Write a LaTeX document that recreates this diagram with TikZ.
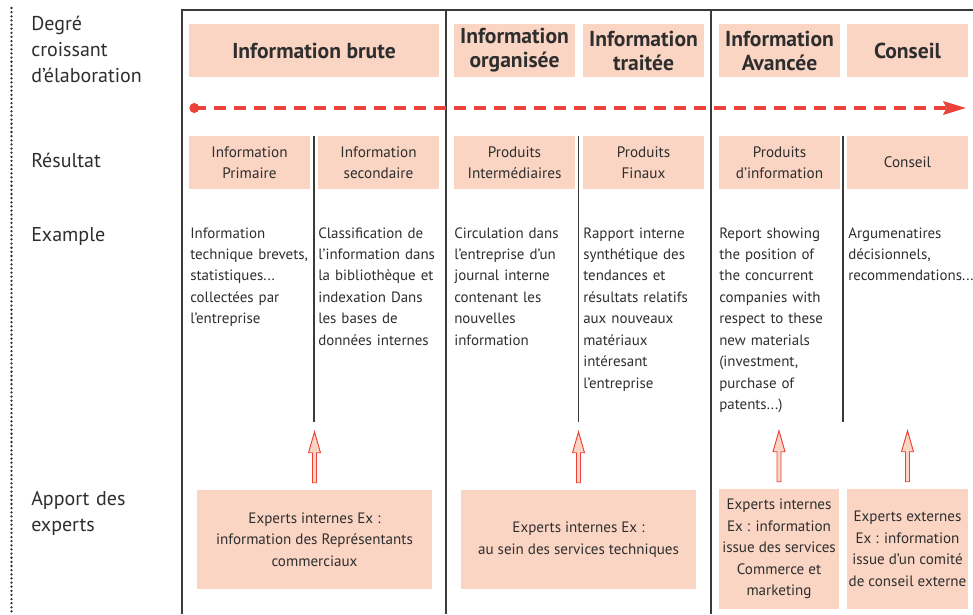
\documentclass[tikz,border=0pt]{standalone}
\usepackage{fontspec}
\setmainfont{PT Sans}
\usetikzlibrary{arrows.meta}
\definecolor{peach}{HTML}{FBD5C4}
\definecolor{redline}{HTML}{EA4138}
\definecolor{rule}{HTML}{3A3A3A}
\definecolor{ink}{HTML}{2E2E2E}
% hollow upward arrow standing on top of an expert box
\newcommand\upflow[1]{%
  \draw[hollow] (#1.north) ++(-2,-7) -- ++(0,-30) -- ++(-4,0) -- ++(6,-21)
    -- ++(6,21) -- ++(-4,0) -- ++(0,30) -- cycle;}
\begin{document}
\begin{tikzpicture}[x=0.75pt,y=-0.75pt,
  every node/.style={text=ink, inner sep=0pt},
  lbl/.style={font=\fontsize{15}{19.5}\selectfont, anchor=base west, text width=110pt, align=left},
  head/.style={fill=peach, minimum height=39.75pt, font=\bfseries\fontsize{16.2}{18}\selectfont, align=center},
  resbox/.style={fill=peach, minimum width=90.75pt, minimum height=39.75pt, font=\fontsize{11.4}{16}\selectfont, align=center},
  ex/.style={anchor=base west, text width=97pt, align=left, font=\fontsize{11.2}{16.1}\selectfont},
  expert/.style={fill=peach, font=\fontsize{11.3}{16.1}\selectfont, align=center},
  frame/.style={draw=rule, line width=1pt},
  sep/.style={draw=rule, line width=0.9pt},
  hollow/.style={draw=redline, fill=peach, line width=0.7pt, line join=miter},
  trend/.style={draw=redline, line width=2.6pt, dash pattern=on 9pt off 6pt,
    -{Stealth[length=17pt,width=10pt,inset=2.5pt]}}
]
\useasboundingbox (0,0) rectangle (973,614);

% dotted margin rule
\draw[ink, line width=1.9pt, line cap=round, dash pattern=on 0pt off 3.1pt] (11.5,8) -- (11.5,614);

% table frame and column rules
\draw[frame] (182,614) -- (182,10) -- (973,10);
\draw[frame] (446,10) -- (446,614);
\draw[frame] (711,10) -- (711,614);
\draw[sep] (314,136) -- (314,422);
\draw[sep] (578.5,136) -- (578.5,422);
\draw[sep] (843,136) -- (843,422);

% row labels
\node[lbl] (ldeg) at (31,31) {Degré\\croissant\\d’élaboration};
\node[lbl] (lres) at (31,167) {Résultat};
\node[lbl] (lex) at (31,241) {Example};
\node[lbl] (lapp) at (31,505) {Apport des\\experts};

% levels of elaboration
\node[head, minimum width=187.5pt] (h1) at (314,50.5) {Information brute};
\node[head, minimum width=90.75pt] (h2) at (514.5,50.5) {Information\\organisée};
\node[head, minimum width=90.75pt] (h3) at (643.5,50.5) {Information\\traitée};
\node[head, minimum width=90.75pt] (h4) at (779.5,50.5) {Information\\Avancée};
\node[head, minimum width=90.75pt] (h5) at (907.5,50.5) {Conseil};

% increasing elaboration
\coordinate (tstart) at (194.3,108);
\coordinate (tend) at (966,108);
\draw[trend] (tstart) -- (tend);
\fill[redline] (tstart) circle (3.75pt);

% results
\node[resbox] (r1) at (249.5,162.5) {Information\\Primaire};
\node[resbox] (r2) at (378.5,162.5) {Information\\secondaire};
\node[resbox] (r3) at (514.5,162.5) {Produits\\Intermédiaires};
\node[resbox] (r4) at (643.5,162.5) {Produits\\Finaux};
\node[resbox] (r5) at (779.5,162.5) {Produits\\d’information};
\node[resbox] (r6) at (907.5,162.5) {Conseil};

% examples
\node[ex] (e1) at (190,238) {Information\\technique brevets,\\statistiques...\\collectées par\\l’entreprise};
\node[ex] (e2) at (318,238) {Classification de\\l’information dans\\la bibliothèque et\\indexation Dans\\les bases de\\données internes};
\node[ex] (e3) at (454,238) {Circulation dans\\l’entreprise d’un\\journal interne\\contenant les\\nouvelles\\information};
\node[ex] (e4) at (583,238) {Rapport interne\\synthétique des\\tendances et\\résultats relatifs\\aux nouveaux\\matériaux\\intéresant\\l’entreprise};
\node[ex] (e5) at (719,238) {Report showing\\the position of\\the concurrent\\companies with\\respect to these\\new materials\\(investment,\\purchase of\\patents...)};
\node[ex] (e6) at (848,238) {Argumenatires\\décisionnels,\\recommendations...};

% expert contributions
\node[expert, minimum width=176.25pt, minimum height=74.25pt] (b1) at (314.5,539.5)
  {Experts internes Ex :\\information des Représentants\\commerciaux};
\node[expert, minimum width=176.25pt, minimum height=74.25pt] (b2) at (578.5,539.5)
  {Experts internes Ex :\\au sein des services techniques};
\node[expert, minimum width=90pt, minimum height=90pt] (b3) at (779,549)
  {Experts internes\\Ex : information\\issue des services\\Commerce et\\marketing};
\node[expert, minimum width=90.75pt, minimum height=90pt] (b4) at (907.5,549)
  {Experts externes\\Ex : information\\issue d’un comité\\de conseil externe};

\upflow{b1}
\upflow{b2}
\upflow{b3}
\upflow{b4}
\end{tikzpicture}
\end{document}
